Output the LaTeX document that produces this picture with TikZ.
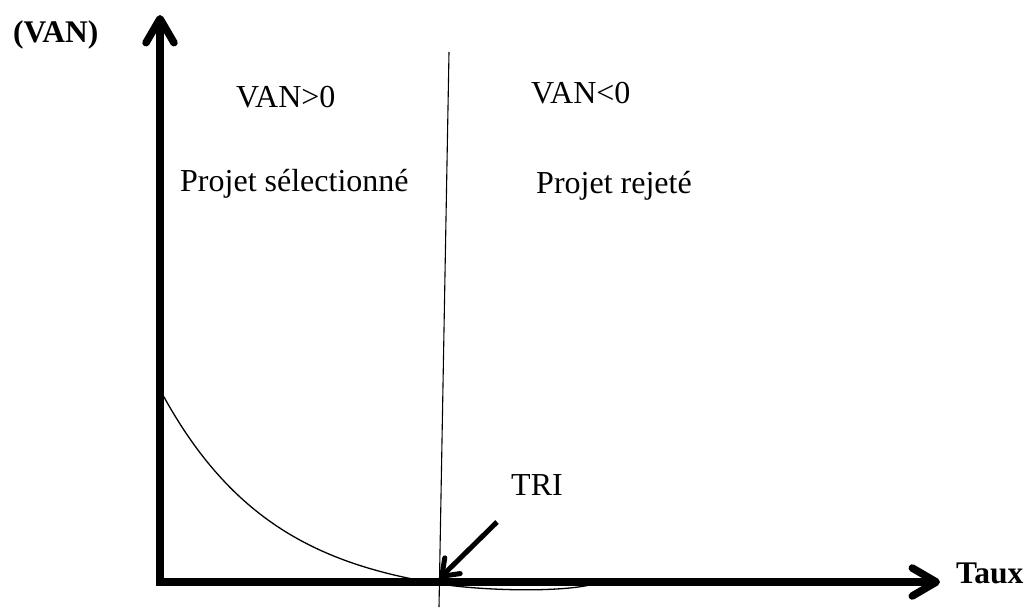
\documentclass[tikz,border=0pt]{standalone}
\usepackage{fontspec}
\setmainfont{Liberation Serif}
\usetikzlibrary{arrows.meta}
\begin{document}
\begin{tikzpicture}[x=1pt,y=-1pt,
  axis/.style={line width=7.5pt, line join=miter, {Straight Barb[length=24pt,width=28pt,round]}-{Straight Barb[length=24pt,width=28pt,round]}},
  pointer/.style={line width=5pt, -{Straight Barb[length=15pt,width=22pt,round]}},
  divider/.style={line width=1.1pt},
  npv/.style={line width=1.3pt},
  lbl/.style={font=\fontsize{32}{38}\selectfont, inner sep=0pt, anchor=base west},
  axlbl/.style={lbl, font=\fontsize{31.5}{38}\selectfont\bfseries}]
  \useasboundingbox (0,0) rectangle (1027,608);

  % key points
  \coordinate (O) at (160,582);
  \coordinate (ytop) at (160,15);
  \coordinate (xend) at (940,582);
  \coordinate (ltop) at (449,52);
  \coordinate (lbot) at (439,607);
  \coordinate (trifoot) at (497,522);
  \coordinate (tri) at (440,578);
  \coordinate (c3) at (594,584);

  % NPV as a function of the discount rate: decaying curve, then a shallow dip
  \draw[npv] plot[domain=162:440, samples=90, smooth]
               (\x, {582 - (212.3*exp(-0.0088*(\x-160)) - 20)})
             .. controls (480,590.4) and (560,593) .. (c3);

  % boundary between the two regions
  \draw[divider] (ltop) -- (lbot);

  % axes
  \draw[axis] (ytop) -- (O) -- (xend);

  % IRR pointer
  \draw[pointer] (trifoot) -- (tri);

  % labels
  \node[axlbl] (yl) at (13,42) {(VAN)};
  \node[axlbl] (xl) at (956,583) {Taux};
  \node[lbl] (pos) at (236,107) {VAN>0};
  \node[lbl] (neg) at (531,103) {VAN<0};
  \node[lbl] (sel) at (180,191) {Projet sélectionné};
  \node[lbl] (rej) at (536,193) {Projet rejeté};
  \node[lbl] (irr) at (511,495) {TRI};
\end{tikzpicture}
\end{document}
